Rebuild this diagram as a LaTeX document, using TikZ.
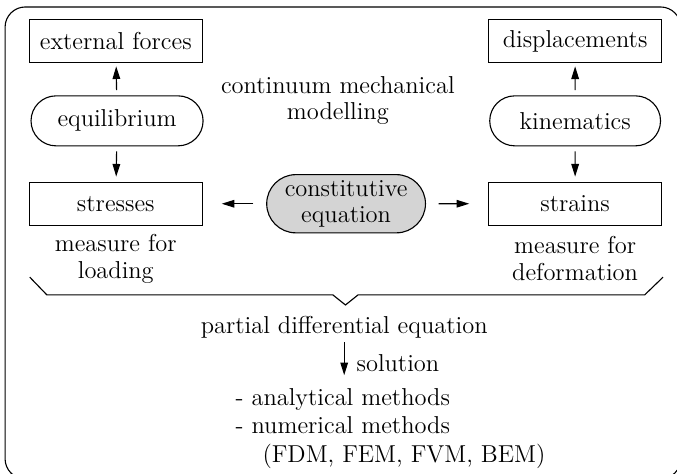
\documentclass[tikz,border=0pt]{standalone}
\usepackage{tikz}
\usetikzlibrary{arrows.meta, positioning, shapes.misc}
\definecolor{pillGray}{HTML}{D4D4D4}

\begin{document}
\begin{tikzpicture}[
    font=\fontsize{11}{12}\selectfont,
    line width=0.5pt,
    box/.style={draw, rectangle, minimum width=2.73cm, minimum height=0.68cm, inner sep=2pt},
    pill/.style={draw, rounded rectangle, minimum width=2.86cm, minimum height=0.79cm, inner sep=2pt},
    arr/.style={-{Triangle[length=2mm, width=1.2mm]}},
    label/.style={align=center}
  ]
        \useasboundingbox (0,0) rectangle (10.70,7.49);
        % frame, cut by the page on the right and at the bottom
        \draw[rounded corners=0.32cm] (0.08,-0.08) rectangle (10.76,7.38);
        \node[box] (forces) at (1.83,6.84) {external forces};
        \node[pill] (equil) at (1.85,5.58) {equilibrium};
        \node[box] (stress) at (1.83,4.27) {stresses};
        \node[box] (displ) at (9.09,6.84) {displacements};
        \node[pill, minimum width=2.84cm] (kinem) at (9.09,5.58) {kinematics};
        \node[box] (strain) at (9.09,4.27) {strains};
        \node[pill, fill=pillGray, minimum width=2.65cm, minimum height=0.92cm, align=center]
          (const) at (5.47,4.27) {constitutive\\equation};
        \node[label] (title) at (5.34,5.90) {continuum mechanical\\modelling};
        \node[label] (loadlbl) at (1.83,3.40) {measure for\\loading};
        \node[label] (deflbl) at (9.09,3.40) {measure for\\deformation};
        \draw[arr, shorten <=0.08cm, shorten >=0.05cm] (equil) -- (forces);
        \draw[arr, shorten <=0.08cm, shorten >=0.08cm] (equil) -- (stress);
        \draw[arr, shorten <=0.08cm, shorten >=0.05cm] (kinem) -- (displ);
        \draw[arr, shorten <=0.08cm, shorten >=0.08cm] (kinem) -- (strain);
        \draw[arr, shorten <=0.2cm, shorten >=0.3cm] (const) -- (stress);
        \draw[arr, shorten <=0.2cm, shorten >=0.3cm] (const) -- (strain);
        % bracket over both sides
        \draw (0.47,3.11) -- (0.74,2.83) -- (5.26,2.83) -- (5.46,2.67)
          -- (5.66,2.83) -- (10.19,2.83) -- (10.48,3.11);
        \node[inner sep=1pt] (pde) at (5.44,2.32) {partial differential equation};
        \node[align=left, anchor=north west, inner sep=1pt] (methods) at (3.68,1.40)
          {- analytical methods\\[0.9pt]- numerical methods\\[0.9pt]\hspace{1.1em}(FDM, FEM, FVM, BEM)};
        \draw[arr, shorten <=0.02cm, shorten >=0.16cm] (pde.south) -- (pde.south |- methods.north)
          node[midway, right, xshift=2pt] {solution};
      \end{tikzpicture}
\end{document}
